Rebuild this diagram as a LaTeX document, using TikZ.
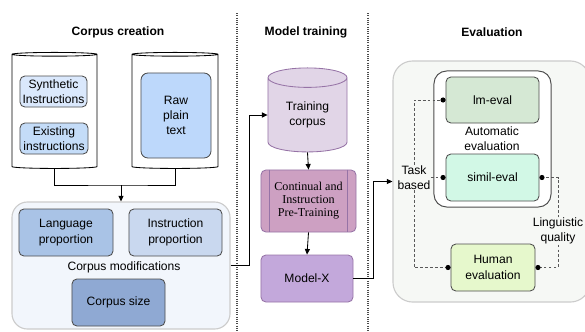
\documentclass[tikz,border=0pt]{standalone}
\usepackage{fontspec}
\setmainfont{Liberation Sans}
\newfontfamily\serifbox{Liberation Serif}
\usetikzlibrary{shapes.geometric,arrows.meta}
\usepackage{xcolor}

\definecolor{boxline}{HTML}{4D4D4D}
\definecolor{synfill}{HTML}{DAE8FC}
\definecolor{exifill}{HTML}{C4DCF8}
\definecolor{rawfill}{HTML}{BDD8FB}
\definecolor{modfill}{HTML}{F2F6FC}
\definecolor{langfill}{HTML}{A9C3E6}
\definecolor{instfill}{HTML}{C9D8EF}
\definecolor{sizefill}{HTML}{8FA9D3}
\definecolor{purpline}{HTML}{9673A6}
\definecolor{tcfill}{HTML}{E1D5E7}
\definecolor{ptfill}{HTML}{CDA0C2}
\definecolor{mxfill}{HTML}{C3A8DB}
\definecolor{evalfill}{HTML}{F6F8F5}
\definecolor{lmfill}{HTML}{D5E8D4}
\definecolor{simfill}{HTML}{D2F8E6}
\definecolor{humfill}{HTML}{E6F8CC}

\tikzset{
  txt/.style={font=\fontsize{8.6}{10.9}\selectfont, align=center, inner sep=0pt},
  title/.style={txt, font=\fontsize{8.6}{10.9}\selectfont\bfseries},
  box/.style={txt, draw=boxline, line width=0.6pt, rounded corners=3.5pt},
  pbox/.style={box, draw=purpline},
  cyl/.style={cylinder, shape border rotate=90, aspect=0.4, draw=black, line width=0.6pt, fill=white},
  bigbox/.style={draw=black!20, line width=0.8pt, rounded corners=11pt},
  sepline/.style={draw=black!70, line width=0.8pt, dash pattern=on 0.7pt off 0.9pt},
  line/.style={draw=black, line width=0.6pt},
  arr/.style={line, -{Triangle[length=4pt,width=3.6pt]}},
  link/.style={draw=black!65, line width=0.6pt, dash pattern=on 2pt off 1.5pt, -{Circle[length=3.6pt,black]}}
}

\begin{document}
\begin{tikzpicture}[x=0.025cm,y=-0.025cm]
\useasboundingbox (0,0) rectangle (585,331);

% column titles and separators
\node[title] (ttlcorpus) at (118,32) {Corpus creation};
\node[title] (ttltrain) at (306,32) {Model training};
\node[title] (ttleval) at (492,32) {Evaluation};
\draw[sepline] (237,13) -- (237,331);
\draw[sepline] (368,13) -- (368,331);

% corpus creation
\node[cyl, minimum width=2.125cm, minimum height=2.9cm] (cylinst) at (54.5,112) {};
\node[cyl, minimum width=2.15cm, minimum height=2.9cm] (cylraw) at (175,112) {};
\node[box, fill=synfill, minimum width=1.675cm, minimum height=0.775cm] (synth) at (53.5,91.5) {Synthetic\\Instructions};
\node[box, fill=exifill, minimum width=1.7cm, minimum height=0.775cm] (exist) at (54,138.5) {Existing\\instructions};
\node[box, fill=rawfill, rounded corners=5pt, minimum width=1.75cm, minimum height=2.125cm] (raw) at (176,115.5) {Raw\\plain\\text};

\node[bigbox, fill=modfill, minimum width=5.45cm, minimum height=3.175cm] (mods) at (121,265.5) {};
\node[box, fill=langfill, minimum width=2.35cm, minimum height=1.175cm] (lang) at (66,232.5) {Language\\proportion};
\node[box, fill=instfill, minimum width=2.325cm, minimum height=1.175cm] (instprop) at (175.5,232.5) {Instruction\\proportion};
\node[txt] (modtext) at (124,267) {Corpus modifications};
\node[box, fill=sizefill, minimum width=2.325cm, minimum height=1.175cm] (size) at (118.5,302.5) {Corpus size};

\coordinate (merge) at (121,185);
\draw[line] (cylinst.south) |- (merge) -| (cylraw.south);
\draw[arr] (merge) -- (mods.north);

% model training
\node[cyl, draw=purpline, fill=tcfill, aspect=0.45, minimum width=1.975cm, minimum height=2.1cm, txt] (tc) at (307.5,115) {Training\\corpus};
\node[pbox, fill=ptfill, minimum width=2.375cm, minimum height=1.55cm, font=\serifbox\fontsize{8.6}{9.2}\selectfont] (pt) at (308.5,201) {Continual and\\Instruction\\Pre-Training};
\draw[draw=purpline, line width=0.6pt] ([xshift=0.225cm]pt.north west) -- ([xshift=0.225cm]pt.south west);
\draw[draw=purpline, line width=0.6pt] ([xshift=-0.225cm]pt.north east) -- ([xshift=-0.225cm]pt.south east);
\node[pbox, fill=mxfill, minimum width=2.3cm, minimum height=1.175cm] (mx) at (307,278.5) {Model-X};

\draw[arr] (mods.east) -- ++(19,0) |- (tc.west);
\draw[arr] (tc.south) -- (pt.north);
\draw[arr] (pt.south) -- (mx.north);

% evaluation
\node[bigbox, fill=evalfill, rounded corners=14pt, minimum width=4.925cm, minimum height=6.025cm] (evalbox) at (491.5,181.5) {};
\draw[arr] (mx.east) -- ++(20,0) |- (evalbox.west);
\node[draw=boxline, line width=0.7pt, fill=white, rounded corners=9pt, minimum width=2.925cm, minimum height=3.4cm] (auto) at (492.5,139) {};
\node[box, fill=lmfill, minimum width=2.325cm, minimum height=1.15cm] (lm) at (492.5,100) {lm-eval};
\node[txt] (autotext) at (492,138.5) {Automatic\\evaluation};
\node[box, fill=simfill, minimum width=2.325cm, minimum height=1.175cm] (simil) at (492.5,177.5) {simil-eval};
\node[box, fill=humfill, minimum width=2.1cm, minimum height=1.175cm] (human) at (493,267.5) {Human\\evaluation};
\node[txt] (task) at (414,177.5) {Task\\based};
\node[txt] (ling) at (558,231) {Linguistic\\quality};

\draw[link] (task.north) |- (lm.west);
\draw[link] (task.east) -- (simil.west);
\draw[link] (task.south) |- (human.west);
\draw[link] (ling.north) |- (simil.east);
\draw[link] (ling.south) |- (human.east);
\end{tikzpicture}
\end{document}
